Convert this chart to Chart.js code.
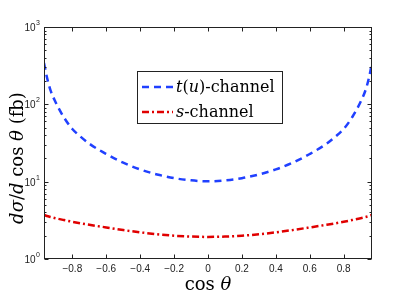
<!DOCTYPE html>
<html>
<head>
<meta charset="utf-8">
<script src="https://cdn.jsdelivr.net/npm/chart.js@4/dist/chart.umd.min.js"></script>
<style>
  body { margin: 0; background: #fff; }
</style>
</head>
<body>
<canvas id="canvas" width="415" height="303"></canvas>
<script>
// values
var cosTheta = [-0.967, -0.95, -0.93, -0.9, -0.85, -0.8, -0.75, -0.7, -0.6, -0.5, -0.4, -0.3, -0.2, -0.1, 0,
                0.1, 0.2, 0.3, 0.4, 0.5, 0.6, 0.7, 0.75, 0.8, 0.85, 0.9, 0.93, 0.95, 0.967];
var tChannel = [343, 225, 155, 108, 68, 48, 38, 31, 22.8, 17.6, 14.4, 12.4, 11.1, 10.4, 10.1,
                10.4, 11.1, 12.4, 14.4, 17.6, 22.8, 31, 38, 48, 68, 108, 155, 225, 343];
var sChannel = [3.72, 3.6, 3.5, 3.37, 3.19, 3.03, 2.89, 2.77, 2.56, 2.37, 2.21, 2.09, 2.0, 1.95, 1.93,
                1.95, 2.0, 2.09, 2.21, 2.37, 2.56, 2.77, 2.89, 3.03, 3.19, 3.37, 3.5, 3.6, 3.72];
var xTicks = [-0.8, -0.6, -0.4, -0.2, 0, 0.2, 0.4, 0.6, 0.8];
var yMajor = [1, 10, 100, 1000];
var yExp = ['0', '1', '2', '3'];

var serif = '"DejaVu Serif", "Liberation Serif", serif';
var sans = '"Liberation Sans", Arial, sans-serif';

function pts(ys) {
    return cosTheta.map(function (c, i) { return {x: c, y: ys[i]}; });
}

function runsWidth(ctx, runs, size) {
    var total = 0;
    runs.forEach(function (r) {
        ctx.font = (r[1] ? 'italic ' : '') + size + 'px ' + serif;
        total += ctx.measureText(r[0]).width;
    });
    return total;
}

function drawRunsLeft(ctx, runs, x, baseY, size) {
    ctx.textAlign = 'left';
    ctx.textBaseline = 'alphabetic';
    runs.forEach(function (r) {
        ctx.font = (r[1] ? 'italic ' : '') + size + 'px ' + serif;
        ctx.fillText(r[0], x, baseY);
        x += ctx.measureText(r[0]).width;
    });
}

function drawRuns(ctx, runs, cx, baseY, size) {
    drawRunsLeft(ctx, runs, cx - runsWidth(ctx, runs, size) / 2, baseY, size);
}

var framePlugin = {
    id: 'frame',
    afterDraw: function (chart) {
        var ctx = chart.ctx, a = chart.chartArea;
        var xs = chart.scales.x, ys = chart.scales.y;
        var L = Math.round(a.left) + 0.5, R = Math.round(a.right) - 0.5;
        var T = Math.round(a.top) + 0.5, B = Math.round(a.bottom) - 0.5;
        ctx.save();
        ctx.strokeStyle = '#222';
        ctx.lineWidth = 1;
        ctx.strokeRect(L, T, R - L, B - T);
        ctx.beginPath();
        xTicks.forEach(function (v) {
            var px = Math.round(xs.getPixelForValue(v)) + 0.5;
            ctx.moveTo(px, B); ctx.lineTo(px, B - 4);
            ctx.moveTo(px, T); ctx.lineTo(px, T + 4);
        });
        ys.ticks.forEach(function (t) {
            var py = Math.round(ys.getPixelForValue(t.value)) + 0.5;
            var len = yMajor.indexOf(t.value) >= 0 ? 4 : 2;
            ctx.moveTo(L, py); ctx.lineTo(L + len, py);
            ctx.moveTo(R, py); ctx.lineTo(R - len, py);
        });
        ctx.stroke();

        // y tick labels 10^n
        ctx.fillStyle = '#222';
        ctx.textAlign = 'right';
        yMajor.forEach(function (v, i) {
            var py = ys.getPixelForValue(v);
            ctx.font = '7px ' + sans;
            ctx.textBaseline = 'alphabetic';
            ctx.fillText(yExp[i], 40, py - 2);
            var w = ctx.measureText(yExp[i]).width;
            ctx.font = '10px ' + sans;
            ctx.fillText('10', 40 - w - 0.5, py + 4);
        });

        // axis titles
        ctx.fillStyle = '#000';
        drawRuns(ctx, [['cos ', false], ['\u03b8', true]], (a.left + a.right) / 2, 290, 18);
        ctx.save();
        ctx.translate(23, 158);
        ctx.rotate(-Math.PI / 2);
        drawRuns(ctx, [['d\u03c3', true], ['/', false], ['d', true], [' cos ', false], ['\u03b8', true], [' (fb)', false]], 0, 0, 18);
        ctx.restore();

        // legend box
        ctx.fillStyle = '#fff';
        ctx.fillRect(137, 71, 146, 53);
        ctx.strokeStyle = '#222';
        ctx.strokeRect(137.5, 71.5, 145, 52);
        var rows = [
            {ds: chart.data.datasets[0], y: 87, base: 92, runs: [['t', true], ['(', false], ['u', true], [')-channel', false]]},
            {ds: chart.data.datasets[1], y: 112, base: 117, runs: [['s', true], ['-channel', false]]}
        ];
        rows.forEach(function (r) {
            ctx.beginPath();
            ctx.strokeStyle = r.ds.borderColor;
            ctx.lineWidth = r.ds.borderWidth;
            ctx.setLineDash(r.ds.borderDash);
            ctx.moveTo(142, r.y); ctx.lineTo(173, r.y);
            ctx.stroke();
            ctx.setLineDash([]);
            ctx.fillStyle = '#000';
            drawRunsLeft(ctx, r.runs, 176, r.base, 16);
        });
        ctx.restore();
    }
};

var ctx = document.getElementById('canvas').getContext('2d');
window.myChart = new Chart(ctx, {
    type: 'line',
    data: {
        datasets: [{
            label: 't(u)-channel',
            data: pts(tChannel),
            borderColor: '#2040ff',
            borderWidth: 2.5,
            borderDash: [7, 5],
            pointRadius: 0,
            fill: false,
            cubicInterpolationMode: 'monotone',
            clip: 0
        }, {
            label: 's-channel',
            data: pts(sChannel),
            borderColor: '#e00000',
            borderWidth: 2.5,
            borderDash: [7, 3, 2, 3],
            pointRadius: 0,
            fill: false,
            cubicInterpolationMode: 'monotone',
            clip: 0
        }]
    },
    options: {
        responsive: false,
        animation: false,
        layout: { padding: { top: 27, right: 43, left: 0, bottom: 0 } },
        plugins: { legend: { display: false }, tooltip: { enabled: false } },
        scales: {
            x: {
                type: 'linear',
                min: -0.967,
                max: 0.967,
                grid: { display: false, drawTicks: false },
                border: { display: false },
                afterBuildTicks: function (s) {
                    s.ticks = xTicks.map(function (v) { return {value: v}; });
                },
                afterFit: function (s) { s.height = 44; },
                ticks: {
                    padding: 4,
                    color: '#222',
                    font: { family: sans, size: 10 },
                    maxRotation: 0,
                    callback: function (v) {
                        return v === 0 ? '0' : (v < 0 ? '\u2212' : '') + Math.abs(v).toFixed(1);
                    }
                }
            },
            y: {
                type: 'logarithmic',
                min: 1,
                max: 1000,
                grid: { display: false, drawTicks: false },
                border: { display: false },
                afterBuildTicks: function (s) {
                    var t = [];
                    for (var d = 1; d < 1000; d *= 10) {
                        for (var k = 1; k < 10; k++) t.push({value: k * d});
                    }
                    t.push({value: 1000});
                    s.ticks = t;
                },
                afterFit: function (s) { s.width = 44; },
                ticks: { display: false }
            }
        }
    },
    plugins: [framePlugin]
});
</script>
</body>
</html>
